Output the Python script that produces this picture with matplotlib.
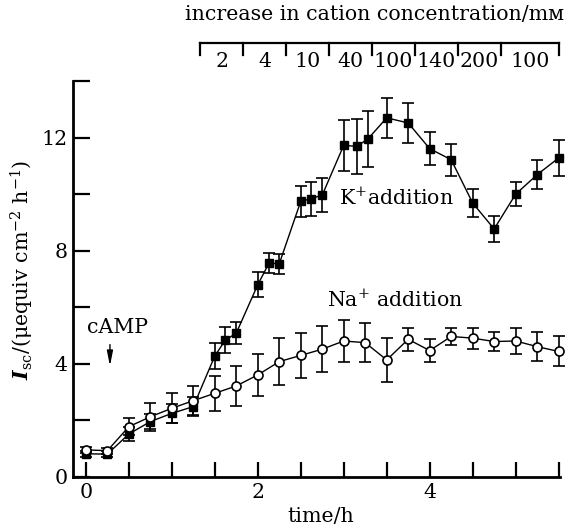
import matplotlib
matplotlib.use("Agg")
import matplotlib.pyplot as plt

plt.rcParams['font.family'] = ['DejaVu Serif', 'DejaVu Sans']
plt.rcParams['mathtext.fontset'] = 'dejavuserif'
plt.rcParams['font.size'] = 14.8

# time (h) and short-circuit current, K+ series
k_time = [0, 0.25, 0.5, 0.75, 1.0, 1.25, 1.5, 1.62, 1.75, 2.0, 2.13, 2.25, 2.5, 2.62, 2.75,
          3.0, 3.15, 3.28, 3.5, 3.75, 4.0, 4.25, 4.5, 4.75, 5.0, 5.25, 5.5]
k_isc = [0.82, 0.81, 1.52, 1.96, 2.25, 2.49, 4.28, 4.83, 5.09, 6.80, 7.56, 7.54, 9.75, 9.84, 9.97,
         11.73, 11.69, 11.95, 12.70, 12.52, 11.61, 11.22, 9.69, 8.77, 10.0, 10.69, 11.28]
k_err = [0.1, 0.1, 0.25, 0.27, 0.33, 0.35, 0.45, 0.46, 0.38, 0.45, 0.35, 0.35, 0.55, 0.6, 0.6,
         0.9, 0.96, 0.98, 0.7, 0.7, 0.58, 0.56, 0.51, 0.47, 0.43, 0.52, 0.62]

# Na+ series
na_time = [0, 0.25, 0.5, 0.75, 1.0, 1.25, 1.5, 1.75, 2.0, 2.25, 2.5, 2.75, 3.0, 3.25, 3.5,
           3.75, 4.0, 4.25, 4.5, 4.75, 5.0, 5.25, 5.5]
na_isc = [0.96, 0.93, 1.78, 2.13, 2.43, 2.70, 2.96, 3.22, 3.61, 4.08, 4.30, 4.52, 4.81, 4.75, 4.14,
          4.87, 4.47, 4.97, 4.91, 4.79, 4.81, 4.61, 4.44]
na_err = [0.1, 0.1, 0.3, 0.5, 0.53, 0.52, 0.61, 0.71, 0.74, 0.83, 0.79, 0.82, 0.74, 0.68, 0.78,
          0.41, 0.42, 0.3, 0.37, 0.34, 0.47, 0.52, 0.53]

# cation additions (top bracket)
addition_times = [1.33, 1.83, 2.33, 2.83, 3.33, 3.83, 4.33, 4.83, 5.5]
conc_labels = ['2', '4', '10', '40', '100', '140', '200', '100']

fig = plt.figure(figsize=(5.68, 5.30), dpi=100)
ax = fig.add_axes([0.1285, 0.1, 0.858, 0.747])

ax.errorbar(k_time, k_isc, yerr=k_err, fmt='s-', color='black', ms=6, mfc='black',
            lw=1, elinewidth=1.2, capsize=4, capthick=1.2, zorder=3, clip_on=False)
ax.errorbar(na_time, na_isc, yerr=na_err, fmt='o-', color='black', ms=6.5, mfc='white',
            mew=1.2, lw=1, elinewidth=1.2, capsize=4, capthick=1.2, zorder=4, clip_on=False)

ax.set_xlim(-0.15, 5.52)
ax.set_ylim(0, 14)
ax.set_xticks([i * 0.5 for i in range(12)])
ax.set_xticklabels(['0', '', '', '', '2', '', '', '', '4', '', '', ''])
ax.set_yticks(range(0, 15, 2))
ax.set_yticklabels(['0', '', '4', '', '8', '', '12', ''])
ax.tick_params(axis='x', direction='in', length=11, width=1.6, pad=4)
ax.tick_params(axis='y', direction='in', length=12, width=1.6, pad=4)
for s in ['top', 'right']:
    ax.spines[s].set_visible(False)
for s in ['left', 'bottom']:
    ax.spines[s].set_linewidth(2)

# annotations
ax.text(0.37, 5.27, 'cAMP', ha='center', va='center')
ax.annotate('', xy=(0.28, 3.83), xytext=(0.28, 4.78),
            arrowprops=dict(arrowstyle='-|>,head_width=0.12,head_length=0.6', color='black', lw=1))
ax.text(2.95, 9.88, 'K$^{+}$addition', ha='left', va='center')
ax.text(2.81, 6.27, 'Na$^{+}$ addition', ha='left', va='center')

# top bracket for concentration increases
tr = ax.get_xaxis_transform()
ax.plot([addition_times[0], addition_times[-1]], [1.096, 1.096], color='black', lw=1.6,
        transform=tr, clip_on=False)
for t in addition_times:
    ax.plot([t, t], [1.096, 1.066], color='black', lw=1.6, transform=tr, clip_on=False)
for i, lab in enumerate(conc_labels):
    mid = (addition_times[i] + addition_times[i + 1]) / 2
    ax.text(mid, 1.05, lab, ha='center', va='center', transform=tr)
ax.text(3.36, 1.167, 'increase in cation concentration/mᴍ', ha='center', va='center',
        transform=tr)

fig.text(321 / 568, 1 - 516 / 530, 'time/h', ha='center', va='center')
fig.text(22 / 568, 1 - 270 / 530, r'$\mathbfit{I}_{\rm sc}$/(μequiv cm$^{-2}$ h$^{-1}$)',
         rotation=90, ha='center', va='center')

fig.savefig('out.png', dpi=100)
